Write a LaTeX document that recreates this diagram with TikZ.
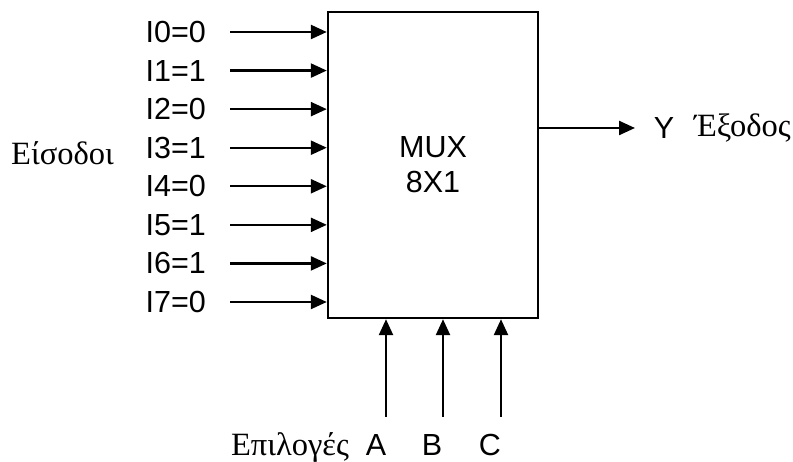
\documentclass[tikz,border=0pt]{standalone}
\usepackage{fontspec}
\setmainfont{Liberation Serif}
\newfontfamily\arialfont{Liberation Sans}
\usetikzlibrary{arrows.meta}
\begin{document}
\begin{tikzpicture}[x=1pt,y=-1pt,
  lbl/.style={font=\arialfont\fontsize{30.5}{35}\selectfont, inner sep=0pt},
  grk/.style={font=\fontsize{32.5}{36}\selectfont, inner sep=0pt},
  wire/.style={line width=2.4pt, -{Triangle[length=16pt,width=14pt]}},
  muxbox/.style={draw, line width=2.4pt, minimum width=210pt, minimum height=306pt, inner sep=0pt, align=center,
     font=\arialfont\fontsize{30.5}{35}\selectfont}]
\useasboundingbox (0,0) rectangle (793,462);
\node[muxbox] (mux) at (433,165) {MUX\\8X1};
\foreach \i/\v in {0/0,1/1,2/0,3/1,4/0,5/1,6/1,7/0}{
  \pgfmathsetmacro{\yy}{32+\i*38.57}
  \node[lbl, anchor=east] (in\i) at (206,\yy) {I\i=\v};
  \coordinate (s\i) at (230,\yy);
  \draw[wire] (s\i) -- (s\i -| mux.west);
}
\node[grk, anchor=west] (eis) at (11,153) {Είσοδοι};
\coordinate (o) at (mux.east |- 0,128);
\coordinate (oe) at (635,128);
\draw[wire] (o) -- (oe);
\node[lbl] (y) at (664,128) {Y};
\node[grk, anchor=east] (exo) at (791,128) {Έξοδος};
\foreach \n/\x/\lx in {A/386/376,B/443/432,C/501/490}{
  \coordinate (b\n) at (\x,417);
  \draw[wire] (b\n) -- (b\n |- mux.south);
  \node[lbl, anchor=base] (l\n) at (\lx,455) {\n};
}
\node[grk, anchor=base] (epi) at (290,455) {Επιλογές};
\end{tikzpicture}
\end{document}
